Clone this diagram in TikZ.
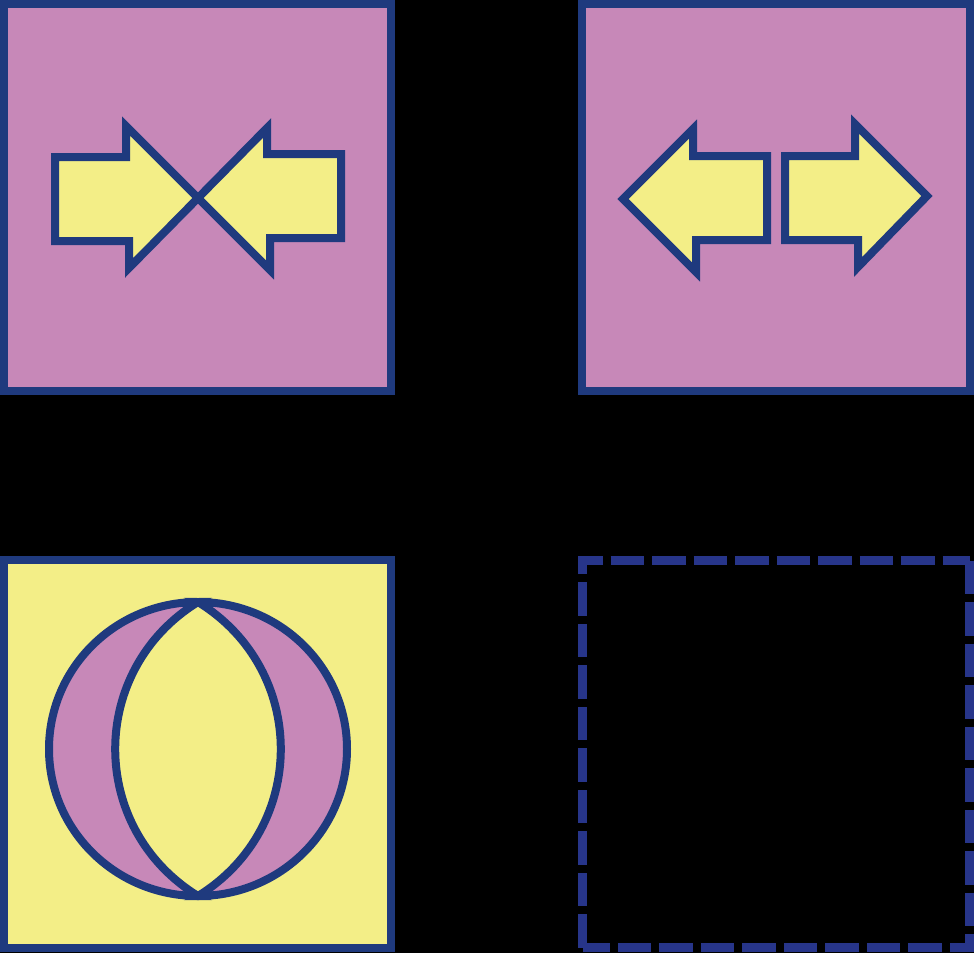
\documentclass[tikz,border=0pt]{standalone}
\usepackage{tikz}
\usepackage{xcolor}
\definecolor{orchid}{RGB}{199,136,184}
\definecolor{butter}{RGB}{243,238,135}
\definecolor{navy}{RGB}{31,58,126}
\definecolor{indigo}{RGB}{39,53,138}

\begin{document}
\begin{tikzpicture}[x=1pt,y=-1pt]
						\tikzstyle{panel} = [draw=navy,line width=8pt]
						\tikzstyle{arrow} = [fill=butter,draw=navy,line width=8pt]
						\tikzstyle{crescent} = [fill=orchid,draw=navy,line width=8pt]
						\tikzstyle{dashedbox} = [draw=indigo,line width=9pt,dash pattern=on 33.5pt off 8pt]
						\useasboundingbox (0,0) rectangle (974,953);
						\fill[black] (0,0) rectangle (974,953);
						
						\draw[panel,fill=orchid] (4,4) rectangle (391,391);
						\draw[panel,fill=orchid] (582,4) rectangle (970,391);
						\draw[panel,fill=butter] (4,560) rectangle (391,948);
						
						\draw[arrow] (55,157) -- (126,157) -- (126,126) -- (198,198) -- (129,268) -- (129,241) -- (55,241) -- cycle;
						\draw[arrow] (341,154) -- (267,154) -- (267,128) -- (198,198) -- (270,270) -- (270,238) -- (341,238) -- cycle;
						
						\draw[arrow] (767,156) -- (693,156) -- (693,129) -- (623,199) -- (696,272) -- (696,240) -- (767,240) -- cycle;
						\draw[arrow] (785,156) -- (855,156) -- (855,124) -- (927,196) -- (858,267) -- (858,240) -- (785,240) -- cycle;
						
						\draw[crescent] (198,602) arc[start angle=270,end angle=90,x radius=149,y radius=147] .. controls (87.6,828) and (87.6,670) .. cycle;
						\draw[crescent] (198,602) arc[start angle=270,end angle=450,x radius=149,y radius=147] .. controls (308.4,828) and (308.4,670) .. cycle;
						
						\draw[dashedbox] (969.5,560.5) -- (969.5,947.5) -- (582.5,947.5);
						\draw[dashedbox] (582.5,947.5) -- (582.5,560.5) -- (969.5,560.5);
\end{tikzpicture}
\end{document}
